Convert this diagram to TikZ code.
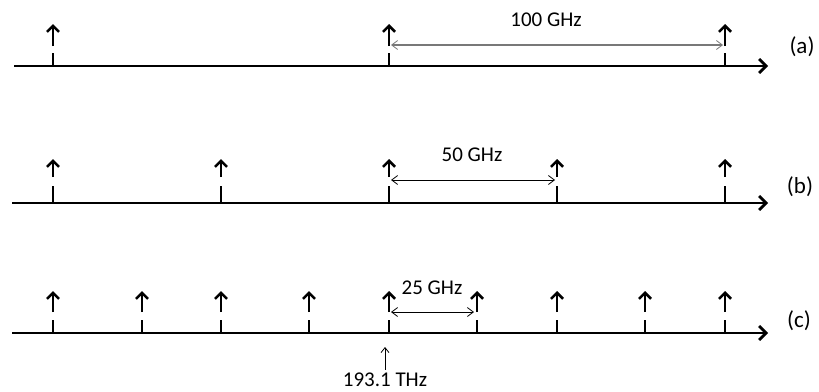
\documentclass[tikz,border=0pt]{standalone}
\usepackage{fontspec}
\setmainfont{Carlito}
\usetikzlibrary{arrows.meta}
\begin{document}
\begin{tikzpicture}[x=1pt,y=-1pt,
  axisline/.style={line width=2.8pt,-{Straight Barb[length=7pt,width=14pt,line width=2.8pt]}},
  spikeup/.style={line width=2.8pt,-{Straight Barb[length=6pt,width=12pt,line width=2.6pt]}},
  spikelow/.style={line width=2.8pt},
  spacing/.style={line width=0.8pt,{Straight Barb[length=6pt,width=9pt,line width=0.8pt]}-{Straight Barb[length=6pt,width=9pt,line width=0.8pt]}},
  lbl/.style={font=\fontsize{21}{23}\selectfont,inner sep=0pt,anchor=center},
  rowlbl/.style={font=\fontsize{23}{25}\selectfont,inner sep=0pt,anchor=center}]
\useasboundingbox (0,0) rectangle (819,391);
\definecolor{spgray}{RGB}{120,120,120}
% axes
\coordinate (sa) at (14,66);  \coordinate (ea) at (768,66);
\coordinate (sb) at (12,203); \coordinate (eb) at (768,203);
\coordinate (sc) at (12,333); \coordinate (ec) at (768,333);
\draw[axisline] (sa) -- (ea);
\draw[axisline] (sb) -- (eb);
\draw[axisline] (sc) -- (ec);
% spikes (a)
\foreach \x [count=\i] in {53,389,725}{
  \coordinate (a\i) at (\x,66);
  \draw[spikelow] (\x,66) -- (\x,53);
  \draw[spikeup] (\x,46) -- (\x,24);
}
% spikes (b)
\foreach \x [count=\i] in {53,221,389,557,725}{
  \coordinate (b\i) at (\x,203);
  \draw[spikelow] (\x,203) -- (\x,186);
  \draw[spikeup] (\x,177) -- (\x,159);
}
% spikes (c)
\foreach \x [count=\i] in {53,142,221,309,389,477,557,645,725}{
  \coordinate (c\i) at (\x,333);
  \draw[spikelow] (\x,333) -- (\x,320);
  \draw[spikeup] (\x,312) -- (\x,291);
}
% spacing arrows
\coordinate (pa1) at (391,45); \coordinate (pa2) at (723,45);
\draw[spacing,spgray,line width=1.2pt] (pa1) -- (pa2);
\coordinate (pb1) at (391,180); \coordinate (pb2) at (555,180);
\draw[spacing] (pb1) -- (pb2);
\coordinate (pc1) at (391,312); \coordinate (pc2) at (474,312);
\draw[spacing] (pc1) -- (pc2);
% labels
\node[lbl] (t100) at (546,20) {100 GHz};
\node[lbl] (t50) at (472,155) {50 GHz};
\node[lbl] (t25) at (432,288) {25 GHz};
\node[rowlbl] (la) at (802,47) {(a)};
\node[rowlbl] (lb) at (800,187) {(b)};
\node[rowlbl] (lc) at (799,321) {(c)};
\node[lbl] (thz) at (385,380) {193.1 THz};
\coordinate (fa) at (385,347);
\draw[line width=0.8pt,-{Straight Barb[length=5pt,width=8pt,line width=0.8pt]}] (thz.north) ++(0,-3) -- (fa);
\end{tikzpicture}
\end{document}
